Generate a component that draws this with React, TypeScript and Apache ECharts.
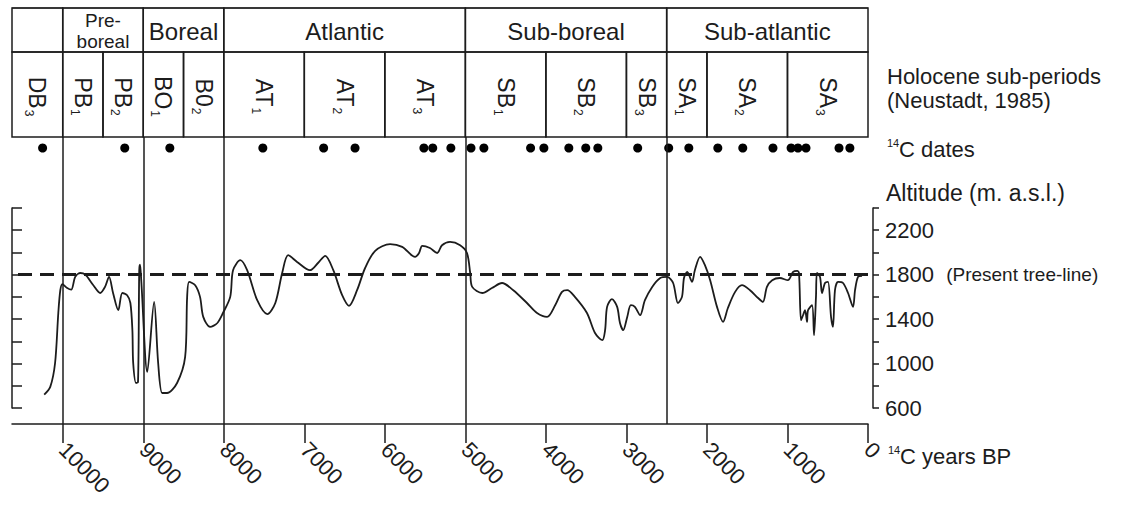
import React, { useEffect, useRef } from "react";
import * as echarts from "echarts";

const FONT = '"Liberation Sans", Arial, Helvetica, sans-serif';
const INK = "#1c1c1c";

// x range (14C years BP), axis runs from the left edge of the table to 0
const X_MAX = 10630;
const yearTicks = [0, 1000, 2000, 3000, 4000, 5000, 6000, 7000, 8000, 9000, 10000];
const altitudeLabels = [600, 1000, 1400, 1800, 2200];
const ALT_MIN = 600;
const ALT_MAX = 2400;
const ALT_STEP = 200;
const treeLine = 1800;

const periods = [
  { name: "", from: 10630, to: 10000 },
  { name: "Pre-\nboreal", from: 10000, to: 9000 },
  { name: "Boreal", from: 9000, to: 8000 },
  { name: "Atlantic", from: 8000, to: 5000 },
  { name: "Sub-boreal", from: 5000, to: 2500 },
  { name: "Sub-atlantic", from: 2500, to: 0 },
];

const subPeriods = [
  { code: "DB", sub: "3", from: 10630, to: 10000 },
  { code: "PB", sub: "1", from: 10000, to: 9500 },
  { code: "PB", sub: "2", from: 9500, to: 9000 },
  { code: "BO", sub: "1", from: 9000, to: 8500 },
  { code: "B0", sub: "2", from: 8500, to: 8000 },
  { code: "AT", sub: "1", from: 8000, to: 7000 },
  { code: "AT", sub: "2", from: 7000, to: 6000 },
  { code: "AT", sub: "3", from: 6000, to: 5000 },
  { code: "SB", sub: "1", from: 5000, to: 4000 },
  { code: "SB", sub: "2", from: 4000, to: 3000 },
  { code: "SB", sub: "3", from: 3000, to: 2500 },
  { code: "SA", sub: "1", from: 2500, to: 2000 },
  { code: "SA", sub: "2", from: 2000, to: 1000 },
  { code: "SA", sub: "3", from: 1000, to: 0 },
];

const datesBP = [
  10250, 9230, 8670, 7515, 6760, 6370, 5515, 5405, 5180, 4930, 4770, 4190, 4025,
  3715, 3505, 3355, 2860, 2475, 2225, 1865, 1555, 1180, 955, 870, 770, 360, 225,
];

const boundaryYears = [10000, 9000, 8000, 5000, 2500];

const altitudeCurve: [number, number][] = [
  [10230, 720], [10155, 790], [10095, 1005], [10055, 1455], [10030, 1660], [10005, 1715],
  [9945, 1680], [9895, 1665], [9845, 1780], [9785, 1815], [9720, 1800], [9620, 1705],
  [9535, 1635], [9475, 1690], [9425, 1780], [9375, 1635], [9310, 1480], [9260, 1635],
  [9200, 1615], [9160, 1545], [9135, 1300], [9125, 1005], [9090, 825], [9065, 835],
  [9050, 1840], [9040, 1890], [9025, 1750], [8950, 925], [8865, 1555], [8815, 1005],
  [8765, 735], [8705, 735], [8580, 825], [8480, 1060], [8455, 1600], [8430, 1735],
  [8355, 1705], [8295, 1600], [8255, 1420], [8170, 1330], [8080, 1365], [8010, 1455],
  [7920, 1600], [7885, 1840], [7795, 1930], [7710, 1840], [7585, 1570], [7460, 1445],
  [7360, 1545], [7275, 1815], [7200, 1975], [7090, 1915], [6930, 1840], [6830, 1905],
  [6740, 1970], [6640, 1840], [6530, 1615], [6445, 1520], [6345, 1660], [6245, 1860],
  [6120, 2015], [5935, 2075], [5785, 2050], [5625, 1960], [5575, 1995], [5535, 2060],
  [5440, 2040], [5350, 1995], [5290, 2065], [5190, 2095], [5065, 2065], [4980, 1995],
  [4940, 1815], [4915, 1690], [4790, 1635], [4670, 1680], [4545, 1725], [4405, 1660],
  [4235, 1545], [4110, 1455], [3985, 1420], [3885, 1525], [3800, 1645], [3735, 1660],
  [3640, 1600], [3490, 1455], [3390, 1275], [3300, 1210], [3265, 1300], [3240, 1510],
  [3180, 1580], [3115, 1510], [3080, 1365], [3040, 1300], [2990, 1420], [2945, 1525],
  [2895, 1510], [2830, 1435], [2770, 1570], [2680, 1690], [2580, 1770], [2495, 1780],
  [2420, 1725], [2360, 1545], [2310, 1600], [2285, 1770], [2245, 1825], [2185, 1735],
  [2150, 1840], [2085, 1960], [2025, 1885], [1960, 1750], [1875, 1510], [1800, 1375],
  [1740, 1500], [1650, 1645], [1565, 1705], [1465, 1660], [1365, 1590], [1305, 1555],
  [1255, 1690], [1190, 1750], [1095, 1770], [995, 1750], [930, 1825], [880, 1835],
  [857, 1815], [832, 1390], [807, 1435], [782, 1480], [757, 1375], [745, 1480],
  [695, 1525], [670, 1255], [646, 1600], [633, 1815], [596, 1780], [571, 1635],
  [534, 1725], [497, 1735], [459, 1420], [435, 1330], [410, 1660], [372, 1735],
  [310, 1725], [248, 1635], [186, 1510], [161, 1660], [124, 1780], [74, 1790],
];

const ROW1_SHARE = 44 / 129;

let measureCtx: CanvasRenderingContext2D | null = null;
function textWidth(text: string, size: number): number {
  if (!measureCtx) measureCtx = document.createElement("canvas").getContext("2d");
  if (!measureCtx) return text.length * size * 0.6;
  measureCtx.font = `${size}px ${FONT}`;
  return measureCtx.measureText(text).width;
}

const GRID_LR = { left: 12, right: 261 };

export default function App() {
  const ref = useRef<HTMLDivElement>(null);

  useEffect(() => {
    if (!ref.current) return;
    const chart = echarts.init(ref.current, undefined, { renderer: "svg" });

    const hiddenX = (gridIndex: number) => ({
      type: "value",
      gridIndex,
      min: 0,
      max: X_MAX,
      inverse: true,
      show: false,
    });
    const hiddenY = (gridIndex: number, min: number, max: number) => ({
      type: "value",
      gridIndex,
      min,
      max,
      show: false,
    });

    const textBase = { fontFamily: FONT, fill: INK };

    const option: any = {
      animation: false,
      backgroundColor: "#ffffff",
      grid: [
        { ...GRID_LR, top: 208, height: 200, containLabel: false, outerBoundsMode: "none" },
        { ...GRID_LR, top: 141, height: 14, containLabel: false, outerBoundsMode: "none" },
        { ...GRID_LR, top: 137, height: 287, containLabel: false, outerBoundsMode: "none" },
        { ...GRID_LR, top: 8, height: 129, containLabel: false, outerBoundsMode: "none" },
      ],
      xAxis: [
        {
          type: "value",
          gridIndex: 0,
          min: 0,
          max: X_MAX,
          inverse: true,
          position: "bottom",
          offset: 16,
          axisLine: { show: true, onZero: false, lineStyle: { color: INK, width: 1.5 } },
          axisTick: {
            show: true,
            inside: false,
            length: 19,
            customValues: yearTicks,
            lineStyle: { color: INK, width: 1.5 },
          },
          axisLabel: {
            show: true,
            customValues: yearTicks,
            rotate: -45,
            margin: 22,
            fontSize: 22,
            fontFamily: FONT,
            color: INK,
            formatter: (v: number) => String(v),
          },
          splitLine: { show: false },
        },
        hiddenX(1),
        hiddenX(2),
        hiddenX(3),
      ],
      yAxis: [
        {
          type: "value",
          gridIndex: 0,
          position: "left",
          min: ALT_MIN,
          max: ALT_MAX,
          interval: ALT_STEP,
          axisLine: { show: true, onZero: false, lineStyle: { color: INK, width: 1.5 } },
          axisTick: { show: true, inside: true, length: 10, lineStyle: { color: INK, width: 1.5 } },
          axisLabel: { show: false },
          splitLine: { show: false },
        },
        {
          type: "value",
          gridIndex: 0,
          position: "right",
          offset: 5,
          min: ALT_MIN,
          max: ALT_MAX,
          interval: ALT_STEP,
          axisLine: { show: true, onZero: false, lineStyle: { color: INK, width: 1.5 } },
          axisTick: { show: true, inside: false, length: 6, lineStyle: { color: INK, width: 1.5 } },
          axisLabel: {
            show: true,
            customValues: altitudeLabels,
            margin: 12,
            fontSize: 22,
            fontFamily: FONT,
            color: INK,
            formatter: (v: number) =>
              v === treeLine ? `${v}  {s|(Present tree-line)}` : `${v}`,
            rich: { s: { fontSize: 19, fontFamily: FONT, color: INK } },
          },
          splitLine: { show: false },
        },
        hiddenY(1, -1, 1),
        hiddenY(2, 0, 1),
        hiddenY(3, 0, 1),
      ],
      series: [
        {
          type: "line",
          name: "Tree-line altitude",
          xAxisIndex: 0,
          yAxisIndex: 0,
          data: altitudeCurve,
          showSymbol: false,
          symbol: "none",
          smooth: 0.3,
          lineStyle: { color: INK, width: 1.8 },
          silent: true,
          markLine: {
            silent: true,
            symbol: ["none", "none"],
            label: { show: false },
            lineStyle: { color: INK, width: 3, type: [14, 8] },
            data: [{ yAxis: treeLine }],
          },
        },
        {
          type: "scatter",
          name: "14C dates",
          xAxisIndex: 1,
          yAxisIndex: 2,
          data: datesBP.map((d) => [d, 0]),
          symbol: "circle",
          symbolSize: 9,
          itemStyle: { color: "#000", opacity: 1 },
          silent: true,
        },
        {
          type: "line",
          name: "boundaries",
          xAxisIndex: 2,
          yAxisIndex: 3,
          data: [[5000, 0.5]],
          symbol: "none",
          lineStyle: { opacity: 0 },
          silent: true,
          markLine: {
            silent: true,
            symbol: ["none", "none"],
            label: { show: false },
            lineStyle: { color: INK, width: 1.5, type: "solid" },
            data: boundaryYears.map((v) => ({ xAxis: v })),
          },
        },
        {
          type: "custom",
          name: "periods",
          xAxisIndex: 3,
          yAxisIndex: 4,
          data: periods.map((p) => [p.from, p.to, 0]),
          encode: { x: [0, 1], y: 2 },
          silent: true,
          clip: false,
          renderItem: (params: any, api: any) => {
            const p = periods[params.dataIndex];
            const a = api.coord([api.value(0), 0]);
            const b = api.coord([api.value(1), 0]);
            const cs = params.coordSys;
            const x0 = Math.min(a[0], b[0]);
            const w = Math.abs(b[0] - a[0]);
            const h = cs.height * ROW1_SHARE;
            const multi = p.name.indexOf("\n") >= 0;
            return {
              type: "group",
              children: [
                {
                  type: "rect",
                  shape: { x: x0, y: cs.y, width: w, height: h },
                  style: { fill: "transparent", stroke: INK, lineWidth: 1.5 },
                },
                {
                  type: "rect",
                  shape: { x: x0, y: cs.y - 0.5, width: w, height: 1 },
                  style: { fill: INK },
                },
                {
                  type: "text",
                  x: x0 + w / 2,
                  y: cs.y + h / 2 + 1,
                  style: {
                    ...textBase,
                    text: p.name,
                    fontSize: multi ? 19 : 24,
                    lineHeight: multi ? 21 : 26,
                    align: "center",
                    verticalAlign: "middle",
                  },
                },
              ],
            };
          },
        },
        {
          type: "custom",
          name: "subPeriods",
          xAxisIndex: 3,
          yAxisIndex: 4,
          data: subPeriods.map((p) => [p.from, p.to, 0]),
          encode: { x: [0, 1], y: 2 },
          silent: true,
          clip: false,
          renderItem: (params: any, api: any) => {
            const p = subPeriods[params.dataIndex];
            const a = api.coord([api.value(0), 0]);
            const b = api.coord([api.value(1), 0]);
            const cs = params.coordSys;
            const x0 = Math.min(a[0], b[0]);
            const w = Math.abs(b[0] - a[0]);
            const h1 = cs.height * ROW1_SHARE;
            const h2 = cs.height - h1;
            const mainSize = 23;
            const subSize = 12;
            const mw = textWidth(p.code, mainSize);
            const sw = textWidth(p.sub, subSize);
            const total = mw + 1 + sw;
            return {
              type: "group",
              children: [
                {
                  type: "rect",
                  shape: { x: x0, y: cs.y + h1, width: w, height: h2 },
                  style: { fill: "transparent", stroke: INK, lineWidth: 1.5 },
                },
                {
                  type: "group",
                  x: x0 + w / 2,
                  y: cs.y + h1 + h2 / 2 + 2,
                  rotation: -Math.PI / 2,
                  children: [
                    {
                      type: "text",
                      x: -total / 2,
                      y: 0,
                      style: {
                        ...textBase,
                        text: p.code,
                        fontSize: mainSize,
                        align: "left",
                        verticalAlign: "middle",
                      },
                    },
                    {
                      type: "text",
                      x: -total / 2 + mw + 1,
                      y: 8,
                      style: {
                        ...textBase,
                        text: p.sub,
                        fontSize: subSize,
                        align: "left",
                        verticalAlign: "middle",
                      },
                    },
                  ],
                },
              ],
            };
          },
        },
      ],
      graphic: [
        { type: "text", left: 887, top: 65, style: { ...textBase, text: "Holocene sub-periods", fontSize: 22 } },
        { type: "text", left: 887, top: 89, style: { ...textBase, text: "(Neustadt, 1985)", fontSize: 22 } },
        { type: "text", left: 887, top: 137, style: { ...textBase, text: "14", fontSize: 11 } },
        { type: "text", left: 899, top: 138, style: { ...textBase, text: "C dates", fontSize: 22 } },
        { type: "text", left: 886, top: 181, style: { ...textBase, text: "Altitude (m. a.s.l.)", fontSize: 23 } },
        { type: "text", left: 888, top: 444, style: { ...textBase, text: "14", fontSize: 11 } },
        { type: "text", left: 900, top: 445, style: { ...textBase, text: "C years BP", fontSize: 22 } },
      ],
    };

    chart.setOption(option);
    return () => chart.dispose();
  }, []);

  return (
    <div
      ref={ref}
      style={{ position: "absolute", left: 0, top: 0, width: 1129, height: 505, background: "#fff" }}
    />
  );
}
